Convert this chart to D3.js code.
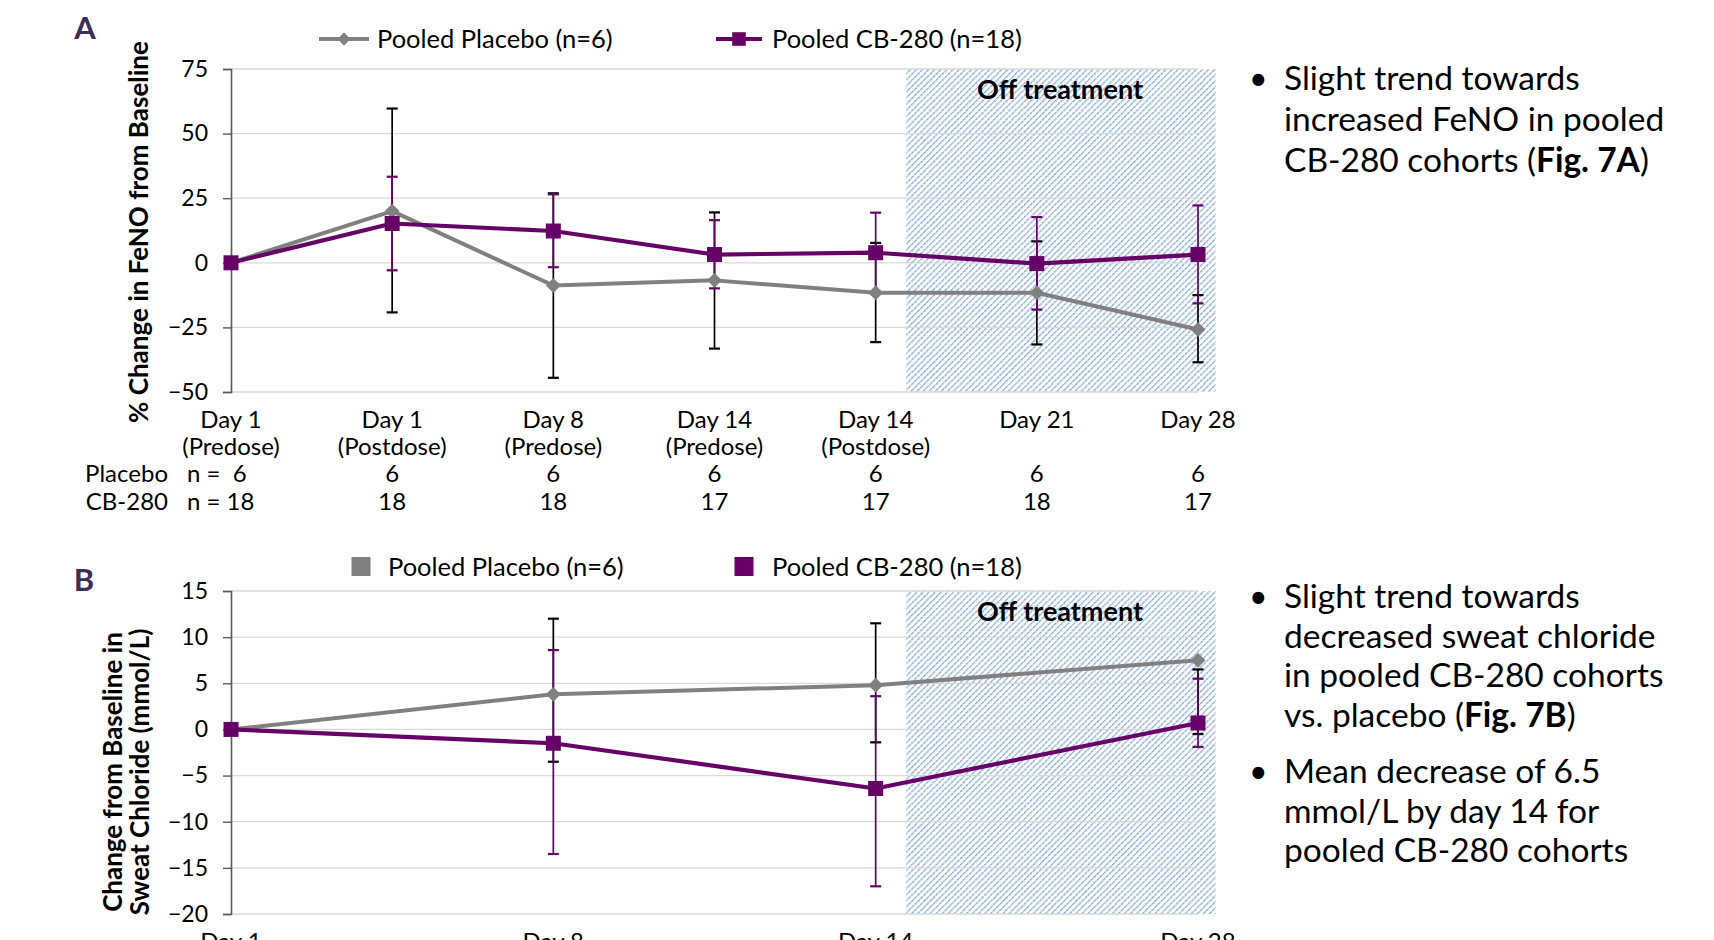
<!DOCTYPE html>
<html>
<head>
<meta charset="utf-8">
<script src="https://cdn.jsdelivr.net/npm/d3@7"></script>
<style>
  html, body { margin: 0; padding: 0; background: #ffffff; }
  svg { display: block; }
  text { font-family: Lato, "Open Sans", sans-serif; }
</style>
</head>
<body>
<svg id="chart" width="1714" height="940"></svg>
<script>
// ---------- Panel A data (FeNO) ----------
const categoriesA = ["Day 1|(Predose)", "Day 1|(Postdose)", "Day 8|(Predose)", "Day 14|(Predose)", "Day 14|(Postdose)", "Day 21|", "Day 28|"];
const nPlaceboA = ["n =  6", "6", "6", "6", "6", "6", "6"];
const nCB280A = ["n = 18", "18", "18", "17", "17", "18", "17"];
const placeboA = [0, 20, -8.8, -6.8, -11.6, -11.6, -25.8];
const placeboALow = [0, -19.2, -44.5, -33.2, -30.7, -31.6, -38.5];
const placeboAHigh = [0, 59.7, 26.9, 19.5, 7.7, 8.3, -12.5];
const cb280A = [0, 15.2, 12.3, 3.2, 3.9, -0.3, 3.2];
const cb280ALow = [0, -2.9, -1.7, -9.9, -11.6, -18.1, -15.7];
const cb280AHigh = [0, 33.3, 26.5, 16.5, 19.4, 17.7, 22.2];
const yTicksA = [75, 50, 25, 0, -25, -50];

// ---------- Panel B data (Sweat chloride) ----------
const categoriesB = ["Day 1", "Day 8", "Day 14", "Day 28"];
const placeboB = [0, 3.8, 4.8, 7.5];
const placeboBLow = [0, -3.5, -1.4, -0.5];
const placeboBHigh = [0, 12.0, 11.5, 6.5];
const cb280B = [0, -1.5, -6.4, 0.7];
const cb280BLow = [0, -13.5, -17.0, -1.9];
const cb280BHigh = [0, 8.6, 3.6, 5.5];
const yTicksB = [15, 10, 5, 0, -5, -10, -15, -20];

// Off-treatment window (in panel A category-index units)
const offTreatment = [4.19, 6.11];

const legendLabels = ["Pooled Placebo (n=6)", "Pooled CB-280 (n=18)"];
const bulletsA = [["Slight trend towards", "increased FeNO in pooled", "CB-280 cohorts (|Fig. 7A|)"]];
const bulletsB = [
  ["Slight trend towards", "decreased sweat chloride", "in pooled CB-280 cohorts", "vs. placebo (|Fig. 7B|)"],
  ["Mean decrease of 6.5", "mmol/L by day 14 for", "pooled CB-280 cohorts"]
];

// ---------- styles ----------
const C = {
  placebo: "#808080", cb: "#660066", err: "#000000",
  grid: "#d9d9d9", axis: "#595959", hatch: "#80a5d5", panel: "#3d2d58"
};
const X0 = 231, X1 = 1198;

const svg = d3.select("#chart");
const defs = svg.append("defs");
const pat = defs.append("pattern").attr("id", "hatch")
  .attr("patternUnits", "userSpaceOnUse").attr("width", 4.3).attr("height", 4.3)
  .attr("patternTransform", "rotate(45)");
pat.append("line").attr("x1", 0).attr("y1", 0).attr("x2", 0).attr("y2", 4.3)
  .attr("stroke", C.hatch).attr("stroke-width", 2.5).attr("stroke-dasharray", "2.2,0.6");

const xIdx = d3.scaleLinear().domain([0, 6]).range([X0, X1]);

function drawPanel(cfg) {
  const g = svg.append("g");
  const y = d3.scaleLinear().domain(cfg.yDomain).range(cfg.yRange);
  const x = d3.scalePoint().domain(d3.range(cfg.n)).range([X0, X1]).padding(0);

  // hatch
  g.append("rect")
    .attr("x", xIdx(offTreatment[0])).attr("y", y(cfg.yDomain[1]))
    .attr("width", xIdx(offTreatment[1]) - xIdx(offTreatment[0]))
    .attr("height", y(cfg.yDomain[0]) - y(cfg.yDomain[1]))
    .attr("fill", "url(#hatch)");

  // gridlines
  g.append("g").selectAll("line").data(cfg.ticks).join("line")
    .attr("x1", X0).attr("x2", X1)
    .attr("y1", d => y(d)).attr("y2", d => y(d))
    .attr("stroke", C.grid).attr("stroke-width", 1.3);

  // y axis
  const ax = g.append("g").attr("transform", `translate(${X0},0)`)
    .call(d3.axisLeft(y).tickValues(cfg.ticks).tickSize(8).tickPadding(6).tickFormat(d3.format("d")));
  ax.select(".domain").attr("stroke", C.axis).attr("stroke-width", 1.6);
  ax.selectAll(".tick line").attr("stroke", C.axis).attr("stroke-width", 1.4);
  ax.selectAll(".tick text").attr("font-size", 23).attr("fill", "#000")
    .style("font-family", "Lato, sans-serif").attr("dx", "-9");

  // off treatment label
  g.append("text").attr("x", 1060).attr("y", cfg.offY)
    .attr("text-anchor", "middle").attr("font-size", 27).attr("font-weight", "bold")
    .attr("fill", "#000").text("Off treatment");

  const series = [
    { v: cfg.placebo, lo: cfg.placeboLow, hi: cfg.placeboHigh, color: C.placebo, errColor: C.err, shape: "diamond" },
    { v: cfg.cb, lo: cfg.cbLow, hi: cfg.cbHigh, color: C.cb, errColor: C.cb, shape: "square" }
  ];
  // error bars
  series.forEach(s => {
    const eg = g.append("g");
    s.v.forEach((v, i) => {
      if (s.lo[i] === s.hi[i]) return;
      eg.append("line").attr("x1", x(i)).attr("x2", x(i)).attr("y1", y(s.lo[i])).attr("y2", y(s.hi[i]))
        .attr("stroke", s.errColor).attr("stroke-width", 1.7);
      [s.lo[i], s.hi[i]].forEach(e => eg.append("line")
        .attr("x1", x(i) - 5.5).attr("x2", x(i) + 5.5).attr("y1", y(e)).attr("y2", y(e))
        .attr("stroke", s.errColor).attr("stroke-width", 2.2));
    });
  });
  // lines
  series.forEach(s => {
    g.append("path").datum(s.v)
      .attr("d", d3.line().x((d, i) => x(i)).y(d => y(d)))
      .attr("fill", "none").attr("stroke", s.color)
      .attr("stroke-width", s.shape === "square" ? 4.2 : 4).attr("stroke-linejoin", "round");
  });
  // markers
  series.forEach(s => {
    g.append("g").selectAll("path").data(s.v).join("path")
      .attr("transform", (d, i) => `translate(${x(i)},${y(d)})${s.shape === "diamond" ? " rotate(45)" : ""}`)
      .attr("d", d3.symbol(d3.symbolSquare, s.shape === "diamond" ? 110 : 225)())
      .attr("fill", s.color);
  });
  return { x, y, g };
}

// ---------- Panel A ----------
const A = drawPanel({
  n: 7, yDomain: [-50, 75], yRange: [392, 69], ticks: yTicksA,
  placebo: placeboA, placeboLow: placeboALow, placeboHigh: placeboAHigh,
  cb: cb280A, cbLow: cb280ALow, cbHigh: cb280AHigh, offY: 99
});
// x labels A
const FS = 24;
categoriesA.forEach((c, i) => {
  const [l1, l2] = c.split("|");
  A.g.append("text").attr("x", A.x(i)).attr("y", 428).attr("text-anchor", "middle")
    .attr("font-size", FS).text(l1);
  if (l2) A.g.append("text").attr("x", A.x(i)).attr("y", 455).attr("text-anchor", "middle")
    .attr("font-size", FS).text(l2);
});
// n rows
[["Placebo", nPlaceboA, 482], ["CB-280", nCB280A, 510]].forEach(([lab, arr, yy]) => {
  A.g.append("text").attr("x", 168).attr("y", yy).attr("text-anchor", "end").attr("font-size", FS).text(lab);
  arr.forEach((t, i) => {
    const tx = A.g.append("text").attr("y", yy).attr("font-size", FS).style("white-space", "pre").text(t);
    if (i === 0) tx.attr("x", 187).attr("text-anchor", "start");
    else tx.attr("x", A.x(i)).attr("text-anchor", "middle");
  });
});
// y title A
svg.append("text").attr("transform", "translate(139,232) rotate(-90)")
  .attr("text-anchor", "middle").attr("font-size", 26).attr("font-weight", "bold").attr("dy", "0.35em")
  .text("% Change in FeNO from Baseline");
// panel label A
svg.append("text").attr("x", 85).attr("y", 39).attr("text-anchor", "middle")
  .attr("font-size", 31).attr("font-weight", "bold").attr("fill", C.panel).text("A");

// legend A (line + marker)
const legA = svg.append("g");
[[319, 369, C.placebo, "diamond", 377], [716, 762, C.cb, "square", 772]].forEach(([a, b, col, shp, tx], k) => {
  legA.append("line").attr("x1", a).attr("x2", b).attr("y1", 39).attr("y2", 39)
    .attr("stroke", col).attr("stroke-width", 3.8);
  legA.append("path")
    .attr("transform", `translate(${(a + b) / 2},39)${shp === "diamond" ? " rotate(45)" : ""}`)
    .attr("d", d3.symbol(d3.symbolSquare, shp === "diamond" ? 85 : 185)())
    .attr("fill", col);
  legA.append("text").attr("x", tx).attr("y", 48).attr("font-size", 25.5).text(legendLabels[k]);
});

// ---------- Panel B ----------
const B = drawPanel({
  n: 4, yDomain: [-20, 15], yRange: [914, 591], ticks: yTicksB,
  placebo: placeboB, placeboLow: placeboBLow, placeboHigh: placeboBHigh,
  cb: cb280B, cbLow: cb280BLow, cbHigh: cb280BHigh, offY: 621
});
categoriesB.forEach((c, i) => {
  B.g.append("text").attr("x", B.x(i)).attr("y", 950).attr("text-anchor", "middle")
    .attr("font-size", FS).text(c);
});
svg.append("text").attr("transform", "translate(113,772) rotate(-90)")
  .attr("text-anchor", "middle").attr("font-size", 26).attr("font-weight", "bold").attr("dy", "0.35em")
  .text("Change from Baseline in");
svg.append("text").attr("transform", "translate(140,772) rotate(-90)")
  .attr("text-anchor", "middle").attr("font-size", 26).attr("font-weight", "bold").attr("dy", "0.35em")
  .text("Sweat Chloride (mmol/L)");
svg.append("text").attr("x", 84).attr("y", 591).attr("text-anchor", "middle")
  .attr("font-size", 31).attr("font-weight", "bold").attr("fill", C.panel).text("B");

const legB = svg.append("g");
[[361, C.placebo, 388], [744, C.cb, 772]].forEach(([cx, col, tx], k) => {
  legB.append("rect").attr("x", cx - 9.5).attr("y", 557).attr("width", 19).attr("height", 19).attr("fill", col);
  legB.append("text").attr("x", tx).attr("y", 576).attr("font-size", 25.5).text(legendLabels[k]);
});

// ---------- bullet text ----------
function drawBullets(groups, startY, lh, gap) {
  let yy = startY;
  groups.forEach(lines => {
    svg.append("text").attr("x", 1249).attr("y", yy).attr("font-size", 32).text("•");
    lines.forEach(line => {
      const t = svg.append("text").attr("x", 1284).attr("y", yy).attr("font-size", 33.5);
      line.split("|").forEach((part, j) => {
        t.append("tspan").attr("font-weight", j === 1 ? "bold" : "normal").text(part);
      });
      yy += lh;
    });
    yy += gap;
  });
}
drawBullets(bulletsA, 90, 41, 0);
drawBullets(bulletsB, 608, 39.7, 16);
</script>
</body>
</html>
